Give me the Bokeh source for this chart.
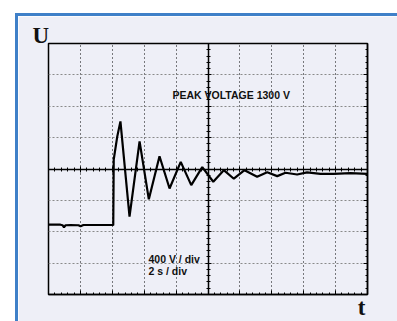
from bokeh.plotting import figure
from bokeh.models import (LinearAxis, SingleIntervalTicker, Label, Range1d,
                          Spacer, CustomJSTickFormatter, Title)
from bokeh.layouts import column, row
from bokeh.embed import file_html
from bokeh.resources import INLINE

# ---- data (time in s, voltage in V) ----
time_s = [0, 0.75, 0.88, 0.97, 1.07, 1.38, 1.88, 2.01, 2.19, 2.95, 4.01, 4.06,
          4.09, 4.31, 4.51, 5.08, 5.71, 6.29, 6.96, 7.59, 8.29, 8.95, 9.64,
          10.33, 10.99, 11.62, 12.29, 13.08, 13.71, 14.34, 14.86, 15.59,
          16.21, 17.05, 17.87, 18.93, 20]
voltage = [-710, -710, -717, -743, -717, -714, -717, -730, -714, -714, -714,
           -717, 121, 413, 607, -607, 353, -387, 163, -248, 91, -206, 23,
           -163, -15, -124, -15, -99, -41, -91, -48, -70, -44, -61, -61, -53,
           -61]
peak_text = "PEAK VOLTAGE 1300 V"
scale_v = "400 V / div"
scale_t = "2  s / div"
x_title = "t"
y_title = "U"

BG = "#EEEFF7"
BLUE = "#3F80C8"

p = figure(width=379, height=305, output_backend="svg", toolbar_location=None,
           x_range=Range1d(0, 20), y_range=Range1d(-1600, 1600),
           min_border_left=30, min_border_right=30, min_border_top=27,
           min_border_bottom=26, background_fill_color=BG,
           border_fill_color=BG, outline_line_color="black",
           outline_line_width=1.5)

xt = SingleIntervalTicker(interval=2, num_minor_ticks=5)
yt = SingleIntervalTicker(interval=400, num_minor_ticks=5)

def style_axis(ax, tin, tout, mtin, mtout):
    ax.major_tick_in = tin
    ax.major_tick_out = tout
    ax.minor_tick_in = mtin
    ax.minor_tick_out = mtout
    ax.major_tick_line_color = "black"
    ax.minor_tick_line_color = "black"
    ax.axis_line_color = "black"
    ax.axis_line_width = 1.5
    ax.major_label_text_font_size = "0px"
    ax.major_label_standoff = 0
    ax.formatter = CustomJSTickFormatter(code="return ''")

# bottom frame axis
p.xaxis.ticker = xt
style_axis(p.xaxis[0], 4, 0, 2, 0)
p.yaxis.visible = False

# right frame axis
ra = LinearAxis(ticker=yt)
style_axis(ra, 4, 0, 2, 0)
p.add_layout(ra, "right")

# center axes (fixed location, no panel space)
xc = LinearAxis(ticker=xt, fixed_location=0)
style_axis(xc, 3, 3, 2, 2)
p.add_layout(xc, "below")
yc = LinearAxis(ticker=yt, fixed_location=10)
style_axis(yc, 3, 3, 2, 2)
p.add_layout(yc, "right")

# grids
p.xgrid.ticker = xt
p.xgrid.grid_line_color = "black"
p.xgrid.grid_line_dash = "1 3"
p.xgrid.grid_line_width = 1
p.ygrid.ticker = yt
p.ygrid.grid_line_color = "#8a8a8a"
p.ygrid.grid_line_dash = "2 2"
p.ygrid.grid_line_width = 1

p.line(time_s, voltage, line_color="black", line_width=2.2)

for txt, xx, yy in [(peak_text, 7.77, 863), (scale_v, 6.27, -1219),
                    (scale_t, 6.27, -1371)]:
    p.add_layout(Label(x=xx, y=yy, text=txt, text_font="Liberation Sans",
                       text_font_style="bold", text_font_size="10.5px",
                       text_color="#111111"))

p.add_layout(Title(text=y_title, align="left", offset=-16, standoff=-8,
                   vertical_align="bottom",
                   text_font="Liberation Serif", text_font_style="bold",
                   text_font_size="23px", text_color="#111111"), "above")
p.add_layout(Title(text=x_title, align="right", offset=2, standoff=0,
                   vertical_align="top",
                   text_font="Liberation Serif", text_font_style="bold",
                   text_font_size="23px", text_color="#111111"), "below")

layout = column(
    Spacer(width=397, height=13),
    row(Spacer(width=15, height=308),
        column(Spacer(width=382, height=3, styles={"background-color": BLUE}),
               row(Spacer(width=3, height=305, styles={"background-color": BLUE}),
                   p, spacing=0),
               spacing=0),
        spacing=0),
    spacing=0)

open("out.html", "w").write(file_html(layout, INLINE))
